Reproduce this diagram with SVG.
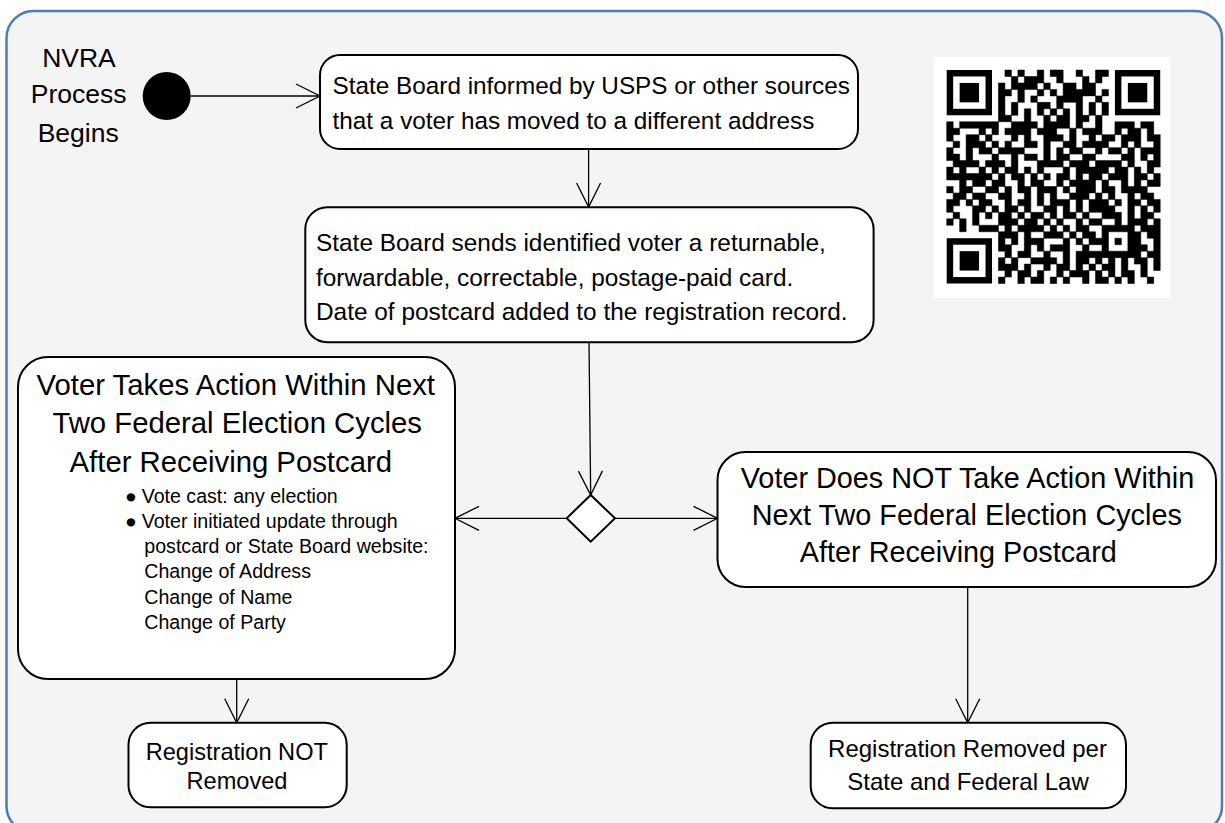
<svg xmlns="http://www.w3.org/2000/svg" width="1225" height="823" viewBox="0 0 1225 823">
<defs>
<style>
.box{fill:#fff;stroke:#000;stroke-width:2}
.t{font-family:"Liberation Sans",Arial,sans-serif;fill:#000}
.m{text-anchor:middle}
.conn{stroke:#000;stroke-width:1.3;fill:none;marker-end:url(#arr)}
</style>
<marker id="arr" viewBox="-26 -14 28 28" refX="0" refY="0" markerWidth="28" markerHeight="28" markerUnits="userSpaceOnUse" orient="auto"><path d="M-24,-12 L0,0 L-24,12" fill="none" stroke="#000" stroke-width="1.3"/></marker>
</defs>
<rect width="1225" height="823" fill="#fff"/>
<rect id="frame" x="6.5" y="11" width="1215.5" height="822" rx="27" fill="#f4f4f4" stroke="#4a7ebb" stroke-width="2.5"/>

<g id="connectors">
<path class="conn" d="M191,96 L320,96"/>
<path class="conn" d="M588.6,149 L588.6,207"/>
<path class="conn" d="M589,342.3 L590.7,495"/>
<path class="conn" d="M566.7,518.3 L455,518.3"/>
<path class="conn" d="M615,518.3 L717.5,518.3"/>
<path class="conn" d="M236.7,679.3 L236.7,722.7"/>
<path class="conn" d="M967.7,586.7 L967.7,722.7"/>
</g>

<g id="start">
<circle cx="166.7" cy="96" r="24" fill="#000"/>
<text class="t m" font-size="26.5"><tspan x="79" y="66.7">NVRA</tspan><tspan x="78.7" y="103.3">Process</tspan><tspan x="78.2" y="141.7">Begins</tspan></text>
</g>

<g id="informed">
<rect class="box" x="320" y="55" width="538" height="94" rx="20"/>
<text class="t" font-size="24.3"><tspan x="332.6" y="93.6">State Board informed by USPS or other sources</tspan><tspan x="332.6" y="128.8">that a voter has moved to a different address</tspan></text>
</g>

<g id="sends">
<rect class="box" x="305.3" y="207.2" width="568.3" height="135" rx="22"/>
<text class="t" font-size="24.4"><tspan x="316" y="251.2">State Board sends identified voter a returnable,</tspan><tspan x="316" y="285.7">forwardable, correctable, postage-paid card.</tspan><tspan x="316" y="320.1">Date of postcard added to the registration record.</tspan></text>
</g>

<g id="decision">
<polygon class="box" points="590.7,495 615,518.3 590.7,541.7 566.7,518.3"/>
</g>

<g id="takes-action">
<rect class="box" x="18" y="357" width="437" height="322" rx="30"/>
<text class="t m" font-size="29.3"><tspan x="235.8" y="395">Voter Takes Action Within Next</tspan><tspan x="237.2" y="433.3">Two Federal Election Cycles</tspan><tspan x="230.8" y="471.7">After Receiving Postcard</tspan></text>
<text class="t" font-size="19.6"><tspan x="125" y="502.7">●</tspan><tspan x="141.7" y="502.7">Vote cast: any election</tspan><tspan x="125" y="527.7">●</tspan><tspan x="141.7" y="527.7">Voter initiated update through</tspan><tspan x="144.3" y="553.3">postcard or State Board website:</tspan><tspan x="144.3" y="578.3">Change of Address</tspan><tspan x="144.3" y="604.3">Change of Name</tspan><tspan x="144.3" y="629.3">Change of Party</tspan></text>
</g>

<g id="no-action">
<rect class="box" x="717.5" y="452" width="498.5" height="135" rx="28"/>
<text class="t m" font-size="28.8"><tspan x="967.5" y="488.3">Voter Does NOT Take Action Within</tspan><tspan x="966.8" y="525">Next Two Federal Election Cycles</tspan><tspan x="958.3" y="561.7">After Receiving Postcard</tspan></text>
</g>

<g id="not-removed">
<rect class="box" x="128.5" y="722.7" width="218.2" height="84.6" rx="22"/>
<text class="t m" font-size="23.6"><tspan x="236.8" y="760">Registration NOT</tspan><tspan x="237" y="789.3">Removed</tspan></text>
</g>

<g id="removed">
<rect class="box" x="810.7" y="722.7" width="315.3" height="85.6" rx="22"/>
<text class="t m" font-size="24"><tspan x="967.5" y="756.7">Registration Removed per</tspan><tspan x="968" y="790">State and Federal Law</tspan></text>
</g>

<g id="qr">
<rect x="934" y="57" width="236" height="241" fill="#fff"/>
<g transform="translate(946.7,70) scale(6.47)" fill="#000">
<rect x="0" y="0" width="7" height="7"/><rect x="1" y="1" width="5" height="5" fill="#fff"/><rect x="2" y="2" width="3" height="3"/>
<rect x="26" y="0" width="7" height="7"/><rect x="27" y="1" width="5" height="5" fill="#fff"/><rect x="28" y="2" width="3" height="3"/>
<rect x="0" y="26" width="7" height="7"/><rect x="1" y="27" width="5" height="5" fill="#fff"/><rect x="2" y="28" width="3" height="3"/>
<path stroke="#000" stroke-width="0.08" d="M9 0h1v1h-1zM11 0h1v1h-1zM14 0h1v1h-1zM16 0h2v1h-2zM20 0h1v1h-1zM23 0h2v1h-2z
M10 1h1v1h-1zM12 1h3v1h-3zM17 1h1v1h-1zM21 1h1v1h-1zM23 1h1v1h-1z
M8 2h1v1h-1zM10 2h4v1h-4zM15 2h1v1h-1zM18 2h2v1h-2zM21 2h2v1h-2z
M8 3h2v1h-2zM11 3h1v1h-1zM14 3h1v1h-1zM16 3h1v1h-1zM18 3h5v1h-5zM24 3h1v1h-1z
M8 4h1v1h-1zM11 4h1v1h-1zM13 4h1v1h-1zM17 4h4v1h-4zM23 4h1v1h-1z
M8 5h1v1h-1zM10 5h1v1h-1zM14 5h2v1h-2zM17 5h1v1h-1zM20 5h1v1h-1zM22 5h1v1h-1zM24 5h1v1h-1z
M8 6h1v1h-1zM10 6h1v1h-1zM12 6h1v1h-1zM14 6h1v1h-1zM16 6h1v1h-1zM18 6h1v1h-1zM20 6h1v1h-1zM22 6h1v1h-1zM24 6h1v1h-1z
M8 7h2v1h-2zM12 7h1v1h-1zM15 7h1v1h-1zM17 7h2v1h-2zM20 7h2v1h-2zM23 7h1v1h-1z
M0 8h1v1h-1zM2 8h6v1h-6zM10 8h4v1h-4zM15 8h4v1h-4zM20 8h1v1h-1zM23 8h1v1h-1zM26 8h3v1h-3zM30 8h2v1h-2z
M0 9h2v1h-2zM5 9h1v1h-1zM7 9h1v1h-1zM9 9h4v1h-4zM14 9h3v1h-3zM19 9h1v1h-1zM21 9h3v1h-3zM26 9h1v1h-1zM28 9h2v1h-2zM31 9h1v1h-1z
M0 10h1v1h-1zM3 10h2v1h-2zM6 10h1v1h-1zM10 10h1v1h-1zM12 10h1v1h-1zM15 10h3v1h-3zM19 10h1v1h-1zM22 10h1v1h-1zM24 10h2v1h-2zM27 10h3v1h-3zM31 10h2v1h-2z
M1 11h1v1h-1zM3 11h3v1h-3zM7 11h1v1h-1zM9 11h1v1h-1zM12 11h2v1h-2zM15 11h1v1h-1zM18 11h2v1h-2zM21 11h4v1h-4zM27 11h1v1h-1zM29 11h1v1h-1zM32 11h1v1h-1z
M0 12h1v1h-1zM3 12h1v1h-1zM5 12h2v1h-2zM8 12h4v1h-4zM15 12h1v1h-1zM17 12h1v1h-1zM19 12h2v1h-2zM23 12h1v1h-1zM25 12h2v1h-2zM28 12h1v1h-1zM30 12h3v1h-3z
M0 13h2v1h-2zM3 13h1v1h-1zM7 13h1v1h-1zM10 13h1v1h-1zM12 13h2v1h-2zM15 13h1v1h-1zM17 13h2v1h-2zM21 13h2v1h-2zM27 13h2v1h-2zM30 13h1v1h-1zM32 13h1v1h-1z
M1 14h4v1h-4zM6 14h3v1h-3zM10 14h1v1h-1zM14 14h4v1h-4zM19 14h3v1h-3zM23 14h4v1h-4zM28 14h1v1h-1zM31 14h2v1h-2z
M0 15h1v1h-1zM2 15h1v1h-1zM5 15h1v1h-1zM7 15h1v1h-1zM9 15h2v1h-2zM12 15h1v1h-1zM14 15h1v1h-1zM18 15h1v1h-1zM20 15h5v1h-5zM26 15h2v1h-2zM29 15h1v1h-1zM31 15h1v1h-1z
M0 16h7v1h-7zM8 16h1v1h-1zM10 16h2v1h-2zM13 16h1v1h-1zM15 16h1v1h-1zM17 16h2v1h-2zM20 16h1v1h-1zM22 16h2v1h-2zM25 16h3v1h-3zM29 16h2v1h-2zM32 16h1v1h-1z
M2 17h1v1h-1zM4 17h2v1h-2zM7 17h2v1h-2zM11 17h1v1h-1zM13 17h2v1h-2zM17 17h1v1h-1zM19 17h4v1h-4zM24 17h1v1h-1zM27 17h1v1h-1zM29 17h1v1h-1zM31 17h2v1h-2z
M0 18h1v1h-1zM2 18h2v1h-2zM6 18h2v1h-2zM9 18h1v1h-1zM11 18h2v1h-2zM14 18h3v1h-3zM18 18h1v1h-1zM20 18h3v1h-3zM24 18h2v1h-2zM27 18h4v1h-4z
M1 19h2v1h-2zM4 19h2v1h-2zM8 19h2v1h-2zM12 19h1v1h-1zM14 19h1v1h-1zM16 19h1v1h-1zM19 19h3v1h-3zM23 19h1v1h-1zM25 19h1v1h-1zM28 19h1v1h-1zM30 19h2v1h-2z
M0 20h2v1h-2zM3 20h1v1h-1zM5 20h2v1h-2zM9 20h1v1h-1zM11 20h2v1h-2zM14 20h1v1h-1zM16 20h3v1h-3zM20 20h1v1h-1zM22 20h3v1h-3zM26 20h1v1h-1zM28 20h2v1h-2zM31 20h2v1h-2z
M0 21h1v1h-1zM4 21h2v1h-2zM7 21h1v1h-1zM9 21h2v1h-2zM12 21h1v1h-1zM15 21h2v1h-2zM18 21h1v1h-1zM20 21h1v1h-1zM22 21h4v1h-4zM28 21h1v1h-1zM30 21h1v1h-1zM32 21h1v1h-1z
M1 22h1v1h-1zM4 22h1v1h-1zM6 22h1v1h-1zM8 22h2v1h-2zM11 22h1v1h-1zM13 22h2v1h-2zM16 22h1v1h-1zM18 22h2v1h-2zM21 22h1v1h-1zM24 22h3v1h-3zM28 22h1v1h-1zM30 22h2v1h-2z
M0 23h1v1h-1zM2 23h1v1h-1zM4 23h1v1h-1zM8 23h3v1h-3zM12 23h2v1h-2zM15 23h1v1h-1zM17 23h1v1h-1zM20 23h1v1h-1zM22 23h2v1h-2zM26 23h1v1h-1zM28 23h3v1h-3zM32 23h1v1h-1z
M2 24h1v1h-1zM5 24h3v1h-3zM9 24h1v1h-1zM11 24h4v1h-4zM16 24h1v1h-1zM18 24h1v1h-1zM20 24h2v1h-2zM24 24h5v1h-5zM30 24h3v1h-3z
M8 25h3v1h-3zM12 25h1v1h-1zM15 25h3v1h-3zM19 25h1v1h-1zM21 25h2v1h-2zM24 25h1v1h-1zM28 25h2v1h-2zM31 25h2v1h-2z
M8 26h1v1h-1zM10 26h1v1h-1zM12 26h3v1h-3zM18 26h1v1h-1zM20 26h1v1h-1zM22 26h3v1h-3zM26 26h1v1h-1zM28 26h2v1h-2zM32 26h1v1h-1z
M8 27h2v1h-2zM12 27h1v1h-1zM14 27h1v1h-1zM16 27h3v1h-3zM21 27h1v1h-1zM24 27h1v1h-1zM28 27h3v1h-3zM32 27h1v1h-1z
M9 28h1v1h-1zM11 28h2v1h-2zM15 28h1v1h-1zM18 28h1v1h-1zM20 28h10v1h-10zM31 28h2v1h-2z
M8 29h1v1h-1zM10 29h1v1h-1zM13 29h4v1h-4zM18 29h1v1h-1zM20 29h2v1h-2zM23 29h1v1h-1zM25 29h1v1h-1zM27 29h1v1h-1zM29 29h2v1h-2zM32 29h1v1h-1z
M8 30h3v1h-3zM12 30h1v1h-1zM15 30h1v1h-1zM17 30h2v1h-2zM20 30h1v1h-1zM22 30h1v1h-1zM24 30h2v1h-2zM27 30h1v1h-1zM30 30h1v1h-1zM32 30h1v1h-1z
M9 31h1v1h-1zM11 31h2v1h-2zM14 31h1v1h-1zM17 31h1v1h-1zM19 31h3v1h-3zM23 31h1v1h-1zM25 31h1v1h-1zM27 31h2v1h-2zM30 31h1v1h-1z
M8 32h1v1h-1zM11 32h1v1h-1zM13 32h2v1h-2zM16 32h1v1h-1zM18 32h1v1h-1zM21 32h1v1h-1zM23 32h2v1h-2zM26 32h1v1h-1zM28 32h1v1h-1zM31 32h1v1h-1z"/>
</g>
</g>
</svg>
